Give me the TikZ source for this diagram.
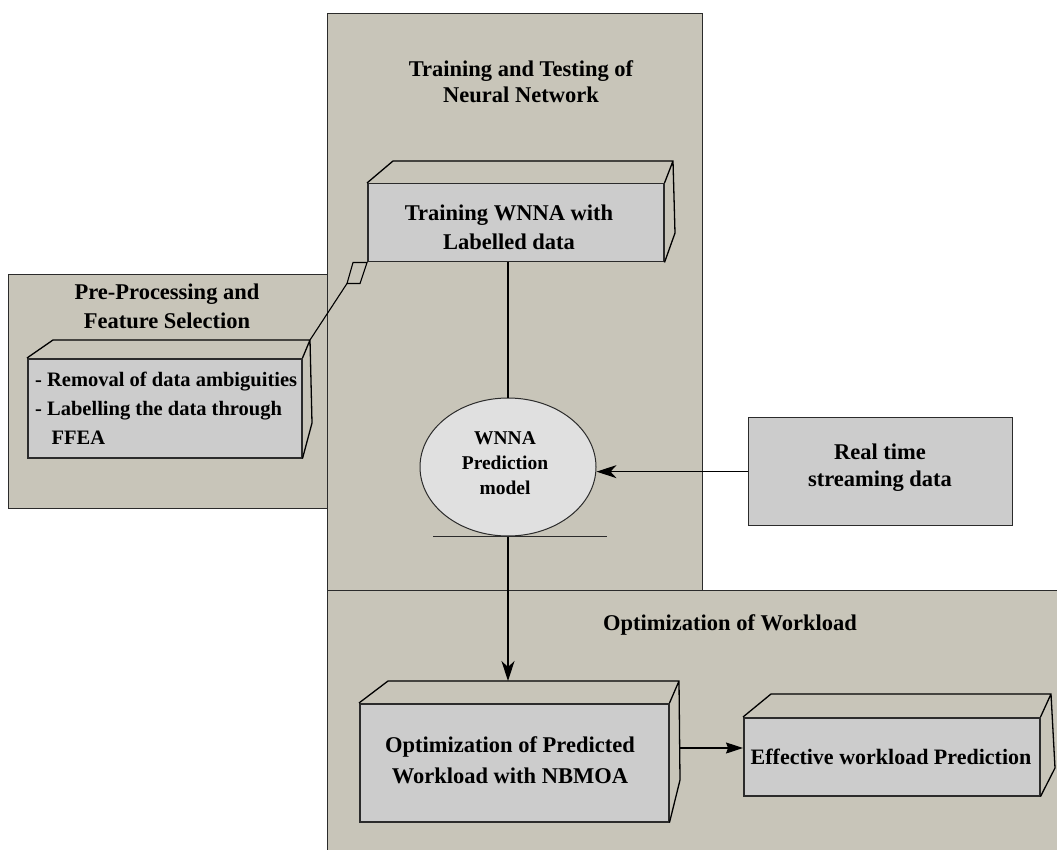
\documentclass[tikz,border=0pt]{standalone}
\usepackage{fontspec}
\setmainfont{Liberation Serif}
\usetikzlibrary{arrows.meta,calc,shapes.geometric}
\definecolor{panelfill}{HTML}{C8C5B9}
\definecolor{boxfill}{HTML}{CCCCCC}
\definecolor{ellfill}{HTML}{E0E0E0}
\definecolor{edge}{HTML}{2B2B2B}
\begin{document}
\begin{tikzpicture}[x=1pt,y=-1pt,
  panel/.style={fill=panelfill,draw=edge,line width=1.4pt,inner sep=0pt,anchor=north west},
  face/.style={draw=black,line width=1.3pt,line join=miter},
  front/.style={fill=boxfill,draw=edge,line width=1.5pt,inner sep=0pt,anchor=north west},
  txt/.style={font=\bfseries\fontsize{22.5}{#1}\selectfont,align=center,inner sep=0pt},
  txt/.default=29,
  link/.style={draw=black,line width=1.1pt},
  headin/.style={-{Stealth[length=20pt,width=13pt,inset=6pt]}},
  headtri/.style={-{Stealth[length=17pt,width=11pt,inset=2pt]}}]
\useasboundingbox (0,0) rectangle (1057,850);
\clip (0,0) rectangle (1057,850);

% panels
\node[panel,minimum width=319,minimum height=234] (prepanel) at (8,274) {};
\node[panel,minimum width=375,minimum height=577] (trainpanel) at (327,13) {};
\node[panel,minimum width=760,minimum height=290] (optpanel) at (327,590) {};

% panel titles
\node[txt=26] (traintitle) at (521,82) {Training and Testing of\\Neural Network};
\node[txt=29] (pretitle) at (167,306) {Pre-Processing and\\Feature Selection};
\node[txt] (opttitle) at (730,625) {Optimization of Workload};

% 3-D box: training
\node[front,minimum width=296,minimum height=78] (train) at (367,183) {};
\draw[face] (train.north west) -- (393,161) -- (673,161) -- (675,233) -- (train.south east)
            (673,161) -- (train.north east);
\node[txt=29] (traintext) at (509,227) {Training WNNA with\\Labelled data};

% 3-D box: pre-processing
\node[front,minimum width=274,minimum height=99] (prep) at (27,358) {};
\draw[face] (prep.north west) -- (53,340) -- (310,340) -- (312,423) -- (prep.south east)
            (310,340) -- (prep.north east);
\coordinate (prepcorner) at (310,340);
\node[font=\bfseries\fontsize{20.5}{29}\selectfont,align=left,inner sep=0pt,anchor=west] (preptext) at (35,408)
  {- Removal of data ambiguities\\- Labelling the data through\\\hspace*{0.8em}FFEA};

% 3-D box: optimization
\node[front,minimum width=309,minimum height=118] (opt) at (359,703) {};
\draw[face] (opt.north west) -- (388,681) -- (679,681) -- (680,780) -- (opt.south east)
            (679,681) -- (opt.north east);
\coordinate (optback) at (388,681);
\coordinate (optside) at (680,748);
\node[txt=31] (opttext) at (510,760) {Optimization of Predicted\\Workload with NBMOA};

% 3-D box: effective prediction
\node[front,minimum width=296,minimum height=78] (eff) at (743,717) {};
\draw[face] (eff.north west) -- (771,694) -- (1051,694) -- (1055,768) -- (eff.south east)
            (1051,694) -- (eff.north east);
\node[font=\bfseries\fontsize{22}{29}\selectfont,inner sep=0pt] (efftext) at (891,757) {Effective workload Prediction};

% streaming data source
\node[front,line width=1.3pt,minimum width=264,minimum height=108] (rt) at (748,417) {};
\node[txt=27] (rttext) at (880,468) {Real time\\streaming data};

% prediction model
\node[ellipse,fill=ellfill,draw=edge,line width=1pt,minimum width=176,minimum height=138,inner sep=0pt] (pred) at (508,467) {};
\node[font=\bfseries\fontsize{19.5}{25}\selectfont,align=center,inner sep=0pt] (predtext) at (505,463) {WNNA\\Prediction\\model};
\draw[edge,line width=1pt] ($(pred.south)+(-75,0)$) -- ($(pred.south)+(99,0)$);

% connectors
\draw[link] (train.south west) -- ++(-14,0) -- ++(-6,21) -- ++(13,0) -- cycle;
\draw[link] ($(train.south west)+(-20,21)$) -- (prepcorner);
\draw[link] (train.south -| pred.north) -- (pred.north);
\draw[link,headin] (rt.west) -- (rt.west -| pred.east);
\draw[link,headin] (pred.south) -- (pred.south |- optback);
\draw[link,headtri] (optside) -- (optside -| eff.west);
\end{tikzpicture}
\end{document}
